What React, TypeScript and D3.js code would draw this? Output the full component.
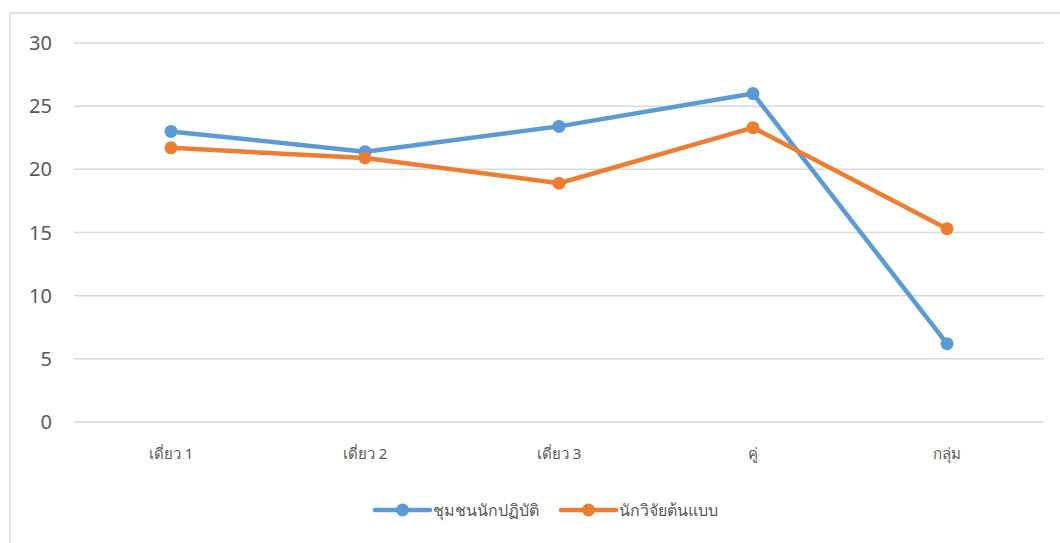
import React from "react";
import * as d3 from "d3";

const categories = ["เดี่ยว 1", "เดี่ยว 2", "เดี่ยว 3", "คู่", "กลุ่ม"];
const seriesNames = ["ชุมชนนักปฏิบัติ", "นักวิจัยต้นแบบ"];
const practitioners = [23.0, 21.4, 23.4, 26.0, 6.2];
const researchers = [21.7, 20.9, 18.9, 23.3, 15.3];
const yTicks = [0, 5, 10, 15, 20, 25, 30];
const colors = ["#5b9bd5", "#ed7d31"];

const width = 1060;
const height = 543;
const plot = { left: 74, right: 1044, top: 43, bottom: 422 };

export default function App() {
  const x = d3
    .scalePoint<string>()
    .domain(categories)
    .range([plot.left, plot.right])
    .padding(0.5);
  const y = d3.scaleLinear().domain([0, 30]).range([plot.bottom, plot.top]);

  const line = d3
    .line<number>()
    .x((_, i) => x(categories[i]) as number)
    .y((d) => y(d));

  const series = [practitioners, researchers];
  const legendX = [375, 561];

  return (
    <svg
      width={width}
      height={height}
      style={{ position: "absolute", left: 0, top: 0, background: "#fff" }}
      fontFamily="'Noto Sans', sans-serif"
    >
      <rect x={10} y={13} width={1060} height={540} fill="#fff" stroke="#d9d9d9" strokeWidth={1.5} />
      {yTicks.map((t) => (
        <g key={t}>
          <line x1={plot.left} x2={plot.right} y1={y(t)} y2={y(t)} stroke="#d9d9d9" strokeWidth={1.5} />
          <text x={52} y={y(t)} dy="0.35em" textAnchor="end" fontSize={20} fill="#595959">
            {t}
          </text>
        </g>
      ))}
      {categories.map((c) => (
        <text key={c} x={x(c)} y={459} textAnchor="middle" fontSize={15} fill="#595959">
          {c}
        </text>
      ))}
      {series.map((s, si) => (
        <g key={si}>
          <path d={line(s) || ""} fill="none" stroke={colors[si]} strokeWidth={4.5} strokeLinejoin="round" />
          {s.map((v, i) => (
            <circle key={i} cx={x(categories[i])} cy={y(v)} r={6.5} fill={colors[si]} />
          ))}
        </g>
      ))}
      {seriesNames.map((n, i) => (
        <g key={n} transform={`translate(${legendX[i]},510)`}>
          <line x1={0} x2={55} y1={0} y2={0} stroke={colors[i]} strokeWidth={4.5} strokeLinecap="round" />
          <circle cx={27.5} cy={0} r={6.5} fill={colors[i]} />
          <text x={58} y={0} dy="0.35em" fontSize={16} fill="#595959">
            {n}
          </text>
        </g>
      ))}
    </svg>
  );
}
